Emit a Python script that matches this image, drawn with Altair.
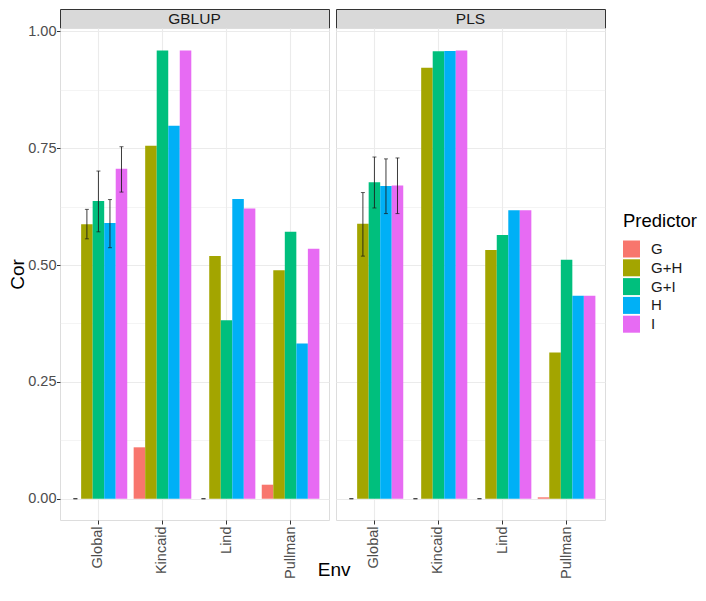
import altair as alt
import pandas as pd

methods = ["GBLUP", "PLS"]
envs = ["Global", "Kincaid", "Lind", "Pullman"]
preds = ["G", "G+H", "G+I", "H", "I"]
colors = ["#F8766D", "#A3A500", "#00BF7D", "#00B0F6", "#E76BF3"]

# Cor values, per env, in predictor order
gblup_global = [0.0, 0.587, 0.637, 0.590, 0.706]
gblup_kincaid = [0.110, 0.755, 0.959, 0.798, 0.959]
gblup_lind = [0.0, 0.519, 0.382, 0.641, 0.621]
gblup_pullman = [0.030, 0.489, 0.571, 0.332, 0.535]

pls_global = [0.0, 0.588, 0.677, 0.669, 0.670]
pls_kincaid = [0.0, 0.922, 0.957, 0.958, 0.959]
pls_lind = [0.0, 0.532, 0.564, 0.617, 0.617]
pls_pullman = [0.003, 0.313, 0.511, 0.434, 0.434]

# error bar limits (None = no error bar)
gblup_global_lo = [0.0, 0.556, 0.571, 0.537, 0.656]
gblup_global_hi = [0.0, 0.619, 0.701, 0.640, 0.753]
pls_global_lo = [0.0, 0.519, 0.622, 0.610, 0.610]
pls_global_hi = [0.0, 0.655, 0.731, 0.727, 0.729]
gblup_lind_lo = [0.0, None, None, None, None]
gblup_lind_hi = [0.0, None, None, None, None]
pls_kincaid_lo = [0.0, None, None, None, None]
pls_kincaid_hi = [0.0, None, None, None, None]
pls_lind_lo = [0.0, None, None, None, None]
pls_lind_hi = [0.0, None, None, None, None]

y_ticks = [0.0, 0.125, 0.25, 0.375, 0.5, 0.625, 0.75, 0.875, 1.0]
y_domain = [-0.0455, 1.007]

none5 = [None] * 5
values = {
    ("GBLUP", "Global"): (gblup_global, gblup_global_lo, gblup_global_hi),
    ("GBLUP", "Kincaid"): (gblup_kincaid, none5, none5),
    ("GBLUP", "Lind"): (gblup_lind, gblup_lind_lo, gblup_lind_hi),
    ("GBLUP", "Pullman"): (gblup_pullman, none5, none5),
    ("PLS", "Global"): (pls_global, pls_global_lo, pls_global_hi),
    ("PLS", "Kincaid"): (pls_kincaid, pls_kincaid_lo, pls_kincaid_hi),
    ("PLS", "Lind"): (pls_lind, pls_lind_lo, pls_lind_hi),
    ("PLS", "Pullman"): (pls_pullman, none5, none5),
}

rows = []
for (m, e), (vals, los, his) in values.items():
    for p, v, lo, hi in zip(preds, vals, los, his):
        rows.append({"Method": m, "Env": e, "Predictor": p, "Cor": v, "lo": lo, "hi": hi})
df = pd.DataFrame(rows)

FONT = "Liberation Sans"
PW, PH, SH = 269, 492, 19
MAJOR = "abs(datum.value * 4 - round(datum.value * 4)) < 0.001"


def panel(method, first):
    d = df[df.Method == method]
    x = alt.X(
        "Env:N", sort=envs,
        scale=alt.Scale(paddingInner=0.1, paddingOuter=0.15),
        axis=alt.Axis(
            title=None,
            labelAngle=270, bandPosition=0.5, grid=True, gridColor="#ebebeb", gridWidth=1.1,
            domain=False, tickColor="#333333", tickSize=4, labelFontSize=14.5, labelFont=FONT,
            labelColor="#4d4d4d", labelPadding=2,
        ),
    )
    xo = alt.XOffset("Predictor:N", sort=preds, scale=alt.Scale(paddingInner=0, paddingOuter=0))
    yaxis = alt.Axis(
        values=y_ticks,
        title="Cor" if first else None,
        titleFontSize=19, titleFontWeight="normal", titleColor="#000000", titleFont=FONT, titlePadding=0,
        labels=first,
        labelExpr=f"{MAJOR} ? format(datum.value, '.2f') : ''",
        labelFontSize=14.5, labelFont=FONT, labelColor="#4d4d4d", labelPadding=0.5,
        ticks=first, tickSize=3.5, tickColor="#333333",
        tickOpacity={"condition": {"test": MAJOR, "value": 1}, "value": 0},
        grid=True, gridColor="#ebebeb",
        gridWidth={"condition": {"test": MAJOR, "value": 1.1}, "value": 0.55},
        domain=False,
    )
    y = alt.Y("Cor:Q", scale=alt.Scale(domain=y_domain, nice=False, zero=False), axis=yaxis)
    color = alt.Color(
        "Predictor:N", sort=preds, scale=alt.Scale(domain=preds, range=colors),
        legend=alt.Legend(
            title="Predictor", orient="none", legendX=563, legendY=203,
            titleFontSize=18.5, titleFontWeight="normal", titleColor="#000000", titleFont=FONT,
            titlePadding=10, labelFontSize=15, labelFont=FONT, labelColor="#1a1a1a",
            symbolType="square", symbolSize=289, symbolStrokeWidth=0, symbolOpacity=1,
            rowPadding=1.8, labelOffset=11, padding=0,
        ),
    )
    bars = alt.Chart(d).mark_bar(opacity=1).encode(x=x, xOffset=xo, y=y, y2=alt.datum(0), color=color)
    eb = d.dropna(subset=["lo"])
    ex = alt.X("Env:N", sort=envs)
    exo = alt.XOffset("Predictor:N", sort=preds)
    whisk = alt.Chart(eb).mark_rule(color="#1a1a1a", strokeWidth=1, opacity=0.85).encode(
        x=ex, xOffset=exo, y=alt.Y("lo:Q"), y2="hi:Q")
    cap_lo = alt.Chart(eb).mark_tick(color="#1a1a1a", size=4, thickness=1, orient="horizontal").encode(
        x=ex, xOffset=exo, y=alt.Y("lo:Q"))
    cap_hi = alt.Chart(eb).mark_tick(color="#1a1a1a", size=4, thickness=1, orient="horizontal").encode(
        x=ex, xOffset=exo, y=alt.Y("hi:Q"))
    layer = alt.layer(bars, whisk, cap_lo, cap_hi).properties(width=PW, height=PH)
    strip = alt.Chart(pd.DataFrame({"Method": [method]})).mark_text(
        fontSize=15.5, font=FONT, color="#1a1a1a", baseline="middle", align="center"
    ).encode(text="Method:N", x=alt.value(PW / 2), y=alt.value(SH / 2 + 0.5)).properties(
        width=PW, height=SH, view=alt.ViewBackground(fill="#d9d9d9", stroke="#333333", strokeWidth=1)
    )
    return strip, layer


sG, pG = panel("GBLUP", True)
sP, pP = panel("PLS", False)

chart = alt.concat(
    sG, sP, pG, pP, columns=2, spacing=alt.RowColnumber(row=0, column=7), bounds="flush"
).properties(
    padding={"left": 0, "top": 0, "right": 0, "bottom": 0},
    title=alt.TitleParams(
        "Env", orient="bottom", anchor="middle", fontSize=19, fontWeight="normal",
        color="#000000", font=FONT, offset=0, dx=-19, dy=-18,
    ),
).configure_view(stroke="#333333", strokeWidth=1).configure(font=FONT)

chart.save("out.html", embed_options={"renderer": "svg", "actions": False})
